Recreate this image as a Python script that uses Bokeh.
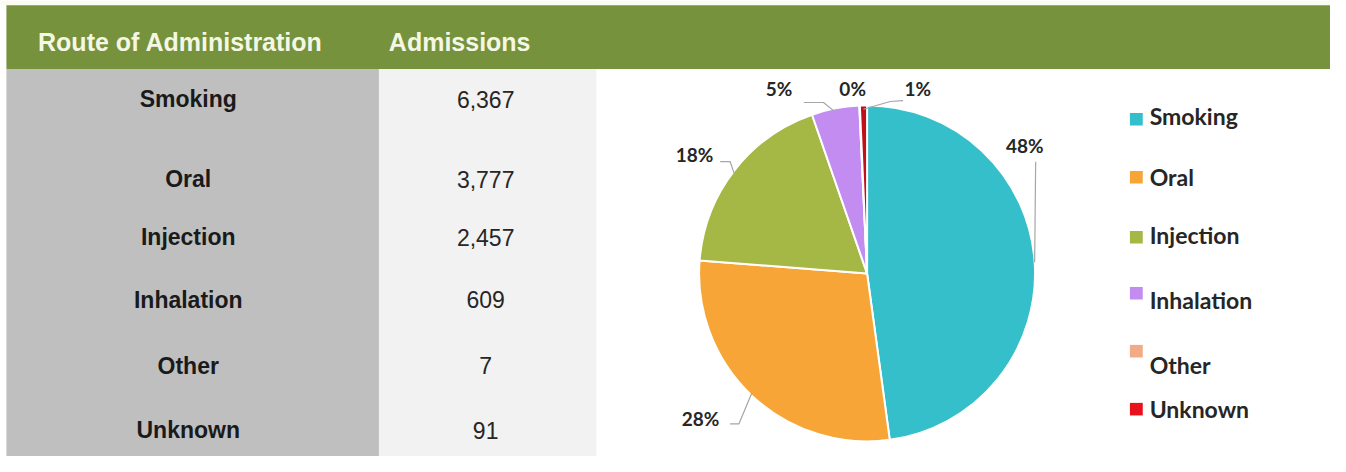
import math
from bokeh.plotting import figure
from bokeh.models import Range1d
from bokeh.core.properties import value
from bokeh.embed import file_html
from bokeh.resources import INLINE

# ---------------- data ----------------
routes = ["Smoking", "Oral", "Injection", "Inhalation", "Other", "Unknown"]
admissions = [6367, 3777, 2457, 609, 7, 91]
header = ["Route of Administration", "Admissions"]

# ---------------- style / layout ----------------
slice_colors = ["#35bfca", "#f7a536", "#a5b845", "#c28cf0", "#f2ab86", "#c0101a"]
legend_colors = ["#35bfca", "#f7a536", "#a5b845", "#c28cf0", "#f2ab86", "#e8101a"]
W, H = 1346, 472                                  # reference frame (px)
PW, PH = 1330, 456                                # figure size
row_y = [102, 185, 245, 310, 378, 445]            # table row centres
legend_sq_y = [123, 183, 245, 303, 363, 423]      # legend swatch centres
legend_tx_dy = [-3, 0, -2, 7, 14, 0]              # legend text offset vs swatch
cx, cy, R = 877, 282.5, 170                       # pie centre / radius
# label offset (from slice mid-edge point) and leader waypoints relative to label
lab_off = [(-10, -121), (-52, 26), (-40, -19), (-57, -24), (-7, -22), (55, -21)]
lead_pts = [[(11, 17)], [(39, 6), (30, 6)], [(36, 7), (26, 7)],
            [(45, 14), (25, 14)], [], [(-28, 13), (-15, 12)]]


def Y(y):
    return H - y


p = figure(width=PW, height=PH,
           x_range=Range1d(0, W), y_range=Range1d(0, H),
           output_backend="svg", toolbar_location=None, min_border=0,
           x_axis_location=None, y_axis_location=None)
p.grid.visible = False
p.outline_line_color = None
p.background_fill_color = "white"
p.border_fill_color = "white"

# table backgrounds
p.quad(left=[0], right=[W], top=[Y(0)], bottom=[Y(5)], fill_color="#fbfbf2", line_color=None)
p.quad(left=[6], right=[383], top=[Y(71)], bottom=[Y(H)], fill_color="#bfbfbf", line_color=None)
p.quad(left=[383], right=[603], top=[Y(71)], bottom=[Y(H)], fill_color="#f2f2f2", line_color=None)
p.quad(left=[6], right=[W], top=[Y(5)], bottom=[Y(71)], fill_color="#76923c", line_color=None)

# header texts
p.text(x=[38, 393], y=[Y(43), Y(43)], text=header,
       text_font=value("Liberation Sans"), text_font_style="bold", text_font_size="25px",
       text_color="#f4f7e4", text_align="left", text_baseline="middle")

# table rows
p.text(x=[190] * len(routes), y=[Y(v) for v in row_y], text=routes,
       text_font=value("Liberation Sans"), text_font_style="bold", text_font_size="23px",
       text_color="#1a1a1a", text_align="center", text_baseline="middle")
p.text(x=[491] * len(routes), y=[Y(v) for v in row_y], text=[f"{v:,}" for v in admissions],
       text_font=value("Liberation Sans"), text_font_size="23px",
       text_color="#262626", text_align="center", text_baseline="middle")

# pie
total = sum(admissions)
cum = [0.0]
for v in admissions:
    cum.append(cum[-1] + v / total * 360.0)
start = [math.radians(90 - a) for a in cum[:-1]]
end = [math.radians(90 - a) for a in cum[1:]]
p.wedge(x=[cx] * len(routes), y=[Y(cy)] * len(routes), radius=R,
        start_angle=start, end_angle=end, direction="clock",
        fill_color=slice_colors, line_color="white", line_width=2)

# data labels + leader lines
lx, ly, labels, xs, ys = [], [], [], [], []
for i, v in enumerate(admissions):
    mid = math.radians((cum[i] + cum[i + 1]) / 2)
    ex, ey = cx + R * math.sin(mid), cy - R * math.cos(mid)
    tx, ty = ex + lab_off[i][0], ey + lab_off[i][1]
    lx.append(tx); ly.append(Y(ty)); labels.append(f"{round(v / total * 100)}%")
    if lead_pts[i]:
        px = [ex] + [tx + d[0] for d in lead_pts[i]]
        py = [ey] + [ty + d[1] for d in lead_pts[i]]
        xs.append(px); ys.append([Y(q) for q in py])
p.multi_line(xs=xs, ys=ys, line_color="#a6a6a6", line_width=1.2)
p.text(x=lx, y=ly, text=labels, text_font=value("Lato"), text_font_style="bold",
       text_font_size="19px", text_color="#262626", text_align="center", text_baseline="middle")

# legend
p.rect(x=[1149.5] * len(routes), y=[Y(v) for v in legend_sq_y], width=13, height=13,
       fill_color=legend_colors, line_color=None)
p.text(x=[1163] * len(routes), y=[Y(v + d) for v, d in zip(legend_sq_y, legend_tx_dy)], text=routes,
       text_font=value("Lato"), text_font_style="bold", text_font_size="23px",
       text_color="#262626", text_align="left", text_baseline="middle")

open("out.html", "w").write(file_html(p, INLINE))
